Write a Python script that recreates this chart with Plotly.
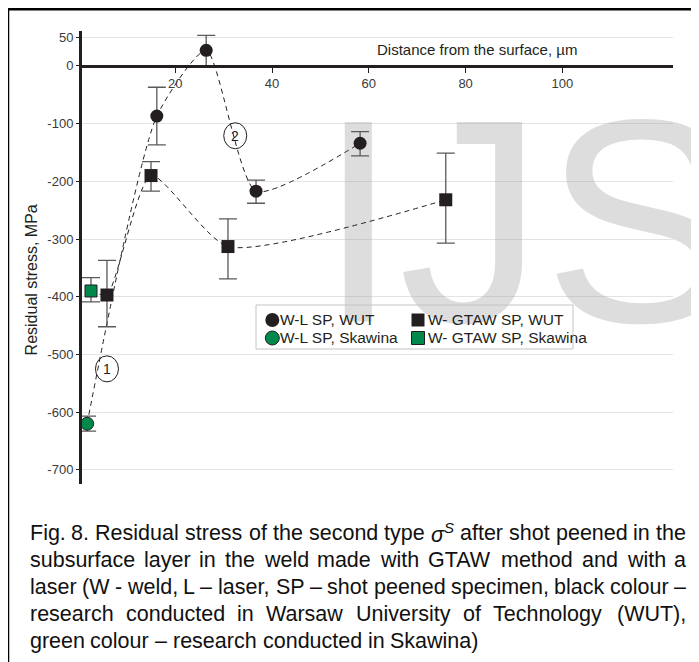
import re
import plotly.graph_objects as go

# ---------------- data ----------------
series_names = ["W-L SP, WUT", "W-L SP, Skawina", "W- GTAW SP, WUT", "W- GTAW SP, Skawina"]

wl_wut_x = [16.2, 26.4, 36.7, 58.2]
wl_wut_y = [-87, 27, -217, -134]
wl_wut_err_up = [50, 26, 19, 20]
wl_wut_err_down = [50, 27, 21, 22]

wl_sk_x = [1.8]
wl_sk_y = [-620]
wl_sk_err_up = [13]
wl_sk_err_down = [13]

gtaw_wut_x = [5.9, 15.0, 30.9, 75.9]
gtaw_wut_y = [-397, -190, -313, -232]
gtaw_wut_err_up = [60, 24, 48, 81]
gtaw_wut_err_down = [55, 27, 56, 75]

gtaw_sk_x = [2.6]
gtaw_sk_y = [-390]
gtaw_sk_err_up = [23]
gtaw_sk_err_down = [19]

x_tickvals = [20, 40, 60, 80, 100]
x_ticktext = ["20", "40", "60", "80", "100"]
y_tickvals = [50, 0, -100, -200, -300, -400, -500, -600, -700]
y_ticktext = ["50", "0", "-100", "-200", "-300", "-400", "-500", "-600", "-700"]

curve_labels = ["1", "2"]
curve_label_x = [5.9, 32.4]
curve_label_y = [-525, -121]

x_title = "Distance from the surface, µm"
y_title = "Residual stress, MPa"
watermark = "IJS"

caption_lines = [
    "Fig. 8. Residual stress of the second type <i>σ<sup>S</sup></i> after shot peened in the",
    "subsurface layer in the weld made with GTAW method and with a",
    "laser (W - weld, L – laser, SP – shot peened specimen, black colour –",
    "research conducted in Warsaw University of Technology (WUT),",
    "green colour – research conducted in Skawina)",
]

# ---------------- layout geometry / styles ----------------
# the page body has an 8 px margin, so the figure starts at (8, 8) of the window
OFF = 8
WIN_W, WIN_H = 699, 662
W, H = WIN_W - OFF, WIN_H - OFF
PLOT_L, PLOT_R, PLOT_T, PLOT_B = 82, 673, 31, 484   # window pixels
ML, MT = PLOT_L - OFF, PLOT_T - OFF
MR, MB = WIN_W - PLOT_R, WIN_H - PLOT_B
PW, PH = PLOT_R - PLOT_L, PLOT_B - PLOT_T
X_RANGE = [0.74, 122.85]
Y_RANGE = [-724.5, 60.5]
SX = PW / (X_RANGE[1] - X_RANGE[0])
SY = PH / (Y_RANGE[1] - Y_RANGE[0])

FONT = "Liberation Sans, Arial, Helvetica, sans-serif"
INK = "#231f20"
GREEN = "#00894b"
ERR = "#5a5a5c"


def px_x(px):
    return (px - PLOT_L) / PW


def px_y(py):
    return (PLOT_B - py) / PH


_lower = dict(zip("abcdefghijklmnopqrstuvwxyz",
                  [556, 556, 500, 556, 556, 278, 556, 556, 222, 222, 500, 222, 833,
                   556, 556, 556, 556, 333, 500, 278, 556, 500, 722, 500, 500, 500]))
_upper = dict(zip("ABCDEFGHIJKLMNOPQRSTUVWXYZ",
                  [667, 667, 722, 722, 667, 611, 778, 722, 278, 500, 667, 556, 833,
                   722, 778, 667, 778, 722, 667, 611, 722, 667, 944, 667, 667, 611]))
CW = {**_lower, **_upper, " ": 278, ".": 278, ",": 278, "(": 333, ")": 333,
      "-": 333, "–": 556, "σ": 600}


def units(s):
    return sum(CW.get(c, 556) for c in s)


def word_width(word, fs):
    plain = re.sub(r"<[^>]+>", "", word)
    u = units(plain)
    m = re.search(r"<sup>(.*?)</sup>", word)
    if m:
        u -= 0.3 * units(re.sub(r"<[^>]+>", "", m.group(1)))
    return u * fs / 1000.0


fig = go.Figure()

# watermark (behind the marks)
fig.add_trace(go.Scatter(
    x=[(527.5 - PLOT_L) / SX + X_RANGE[0]], y=[Y_RANGE[1] - (249 - PLOT_T) / SY],
    mode="text", text=[watermark], textposition="middle center",
    textfont=dict(size=290, color="rgba(160,160,160,0.36)", family=FONT),
    cliponaxis=False, hoverinfo="skip", showlegend=False))

# dashed connecting curves
fig.add_trace(go.Scatter(
    x=wl_sk_x + wl_wut_x, y=wl_sk_y + wl_wut_y, mode="lines",
    line=dict(color=INK, width=1, dash="5px,4px", shape="spline", smoothing=0.6),
    hoverinfo="skip", showlegend=False))
fig.add_trace(go.Scatter(
    x=gtaw_sk_x + gtaw_wut_x, y=gtaw_sk_y + gtaw_wut_y, mode="lines",
    line=dict(color=INK, width=1, dash="5px,4px", shape="spline", smoothing=0.6),
    hoverinfo="skip", showlegend=False))


def err(up, down):
    return dict(type="data", symmetric=False, array=up, arrayminus=down,
                color=ERR, thickness=1.3, width=9)


fig.add_trace(go.Scatter(
    x=wl_wut_x, y=wl_wut_y, name=series_names[0], mode="markers",
    marker=dict(symbol="circle", size=13, color=INK),
    error_y=err(wl_wut_err_up, wl_wut_err_down), cliponaxis=False, showlegend=False))
fig.add_trace(go.Scatter(
    x=wl_sk_x, y=wl_sk_y, name=series_names[1], mode="markers",
    marker=dict(symbol="circle", size=13, color=GREEN, line=dict(color=INK, width=1)),
    error_y=err(wl_sk_err_up, wl_sk_err_down), cliponaxis=False, showlegend=False))
fig.add_trace(go.Scatter(
    x=gtaw_wut_x, y=gtaw_wut_y, name=series_names[2], mode="markers",
    marker=dict(symbol="square", size=13, color=INK),
    error_y=err(gtaw_wut_err_up, gtaw_wut_err_down), cliponaxis=False, showlegend=False))
fig.add_trace(go.Scatter(
    x=gtaw_sk_x, y=gtaw_sk_y, name=series_names[3], mode="markers",
    marker=dict(symbol="square", size=12, color=GREEN, line=dict(color=INK, width=1)),
    error_y=err(gtaw_sk_err_up, gtaw_sk_err_down), cliponaxis=False, showlegend=False))

shapes = []
annotations = []

# circled curve numbers
for lab, lx, ly in zip(curve_labels, curve_label_x, curve_label_y):
    shapes.append(dict(type="circle", xref="x", yref="y",
                       x0=lx - 11.5 / SX, x1=lx + 11.5 / SX,
                       y0=ly - 13 / SY, y1=ly + 13 / SY,
                       line=dict(color=INK, width=1)))
    annotations.append(dict(x=lx, y=ly, xref="x", yref="y", text=lab, showarrow=False,
                            xanchor="center", yanchor="middle",
                            font=dict(size=14, color=INK, family=FONT)))

# frame of the figure
shapes.append(dict(type="line", xref="paper", yref="paper",
                   x0=px_x(6.5), x1=px_x(WIN_W + 2), y0=px_y(9), y1=px_y(9),
                   line=dict(color="#000000", width=3)))
shapes.append(dict(type="line", xref="paper", yref="paper",
                   x0=px_x(8), x1=px_x(8), y0=px_y(7.5), y1=px_y(WIN_H + 2),
                   line=dict(color="#000000", width=2.5)))

# manual legend (box, symbols, labels)
shapes.append(dict(type="rect", xref="paper", yref="paper",
                   x0=px_x(256), x1=px_x(573), y0=px_y(349), y1=px_y(305),
                   line=dict(color="#c4c4c4", width=1), fillcolor="rgba(0,0,0,0)"))
leg_rows = [320, 338]
leg_cols_marker = [272.3, 418]
leg_cols_text = [280, 428]
leg_styles = [("circle", INK), ("circle", GREEN), ("rect", INK), ("rect", GREEN)]
for i, name in enumerate(series_names):
    col, row = i // 2, i % 2
    cx, cy = leg_cols_marker[col], leg_rows[row]
    kind, colr = leg_styles[i]
    r = 7 if kind == "circle" else 6.5
    shapes.append(dict(type=kind, xref="paper", yref="paper",
                       x0=px_x(cx - r), x1=px_x(cx + r), y0=px_y(cy + r), y1=px_y(cy - r),
                       fillcolor=colr,
                       line=dict(color=INK, width=1 if colr == GREEN else 0)))
    annotations.append(dict(x=px_x(leg_cols_text[col] - 2), y=px_y(cy + 5 - 5.4),
                            xref="paper", yref="paper", xanchor="left", yanchor="middle",
                            text=name, showarrow=False,
                            font=dict(size=15.5, color=INK, family=FONT)))

# axis titles
annotations.append(dict(x=px_x(477), y=px_y(49.3), xref="paper", yref="paper",
                        xanchor="center", yanchor="middle",
                        text=x_title, showarrow=False,
                        font=dict(size=15, color=INK, family=FONT)))
annotations.append(dict(x=px_x(31.4), y=px_y(280), xref="paper", yref="paper",
                        xanchor="center", yanchor="middle",
                        text=y_title, textangle=-90, showarrow=False,
                        font=dict(size=16, color=INK, family=FONT)))

# caption, justified word by word
CAP_FS = 21.5
CAP_LEFT, CAP_RIGHT = 29.5, 686
cap_baselines = [541, 568, 595, 621.7, 648.3]
for li, (line, base) in enumerate(zip(caption_lines, cap_baselines)):
    words = line.split(" ")
    widths = [word_width(w, CAP_FS) for w in words]
    justified = li < len(caption_lines) - 1
    if justified:
        gap = (CAP_RIGHT - CAP_LEFT - sum(widths)) / (len(words) - 1)
    else:
        gap = 278 * CAP_FS / 1000.0
    yc = px_y(base - 0.35 * CAP_FS)
    xcur = CAP_LEFT
    for wi, (w, ww) in enumerate(zip(words, widths)):
        if justified and wi == len(words) - 1:
            annotations.append(dict(x=px_x(CAP_RIGHT + 2), y=yc, xref="paper", yref="paper",
                                    xanchor="right", yanchor="middle", text=w, showarrow=False,
                                    font=dict(size=CAP_FS, color="#111111", family=FONT)))
        else:
            annotations.append(dict(x=px_x(xcur - 2), y=yc, xref="paper", yref="paper",
                                    xanchor="left", yanchor="middle", text=w, showarrow=False,
                                    font=dict(size=CAP_FS, color="#111111", family=FONT)))
        xcur += ww + gap

fig.update_layout(
    width=W, height=H, autosize=False,
    margin=dict(l=ML, r=MR, t=MT, b=MB, pad=0),
    paper_bgcolor="white", plot_bgcolor="white",
    showlegend=False,
    font=dict(family=FONT, color=INK),
    shapes=shapes, annotations=annotations,
    xaxis=dict(range=X_RANGE, anchor="free",
               position=(0 - Y_RANGE[0]) / (Y_RANGE[1] - Y_RANGE[0]),
               showline=True, linecolor=INK, linewidth=2.5,
               ticks="outside", ticklen=5, tickwidth=1, tickcolor=INK,
               tickvals=x_tickvals, ticktext=x_ticktext,
               tickfont=dict(size=13, color="#3a3a3a", family=FONT),
               showgrid=False, zeroline=False, fixedrange=True),
    yaxis=dict(range=Y_RANGE, showline=True, linecolor=INK, linewidth=3,
               ticks="outside", ticklen=3, tickwidth=1, tickcolor=INK,
               tickvals=y_tickvals, ticktext=y_ticktext,
               tickfont=dict(size=13, color="#3a3a3a", family=FONT),
               showgrid=True, gridcolor="#e3e3e3", gridwidth=1,
               zeroline=False, fixedrange=True),
)

fig.write_html("out.html")
